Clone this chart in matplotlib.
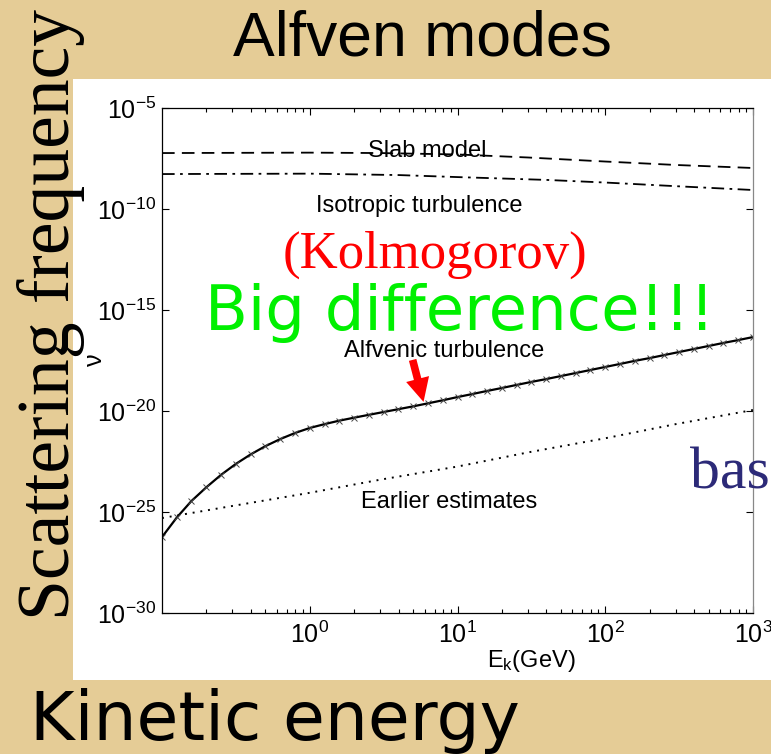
import numpy as np
import matplotlib
matplotlib.use("Agg")
import matplotlib.pyplot as plt
from matplotlib.patches import Rectangle
from matplotlib.ticker import LogLocator, NullLocator, NullFormatter

plt.rcParams['font.family'] = ['Liberation Sans', 'DejaVu Sans']
plt.rcParams['mathtext.fontset'] = 'custom'
plt.rcParams['mathtext.rm'] = 'Liberation Sans'
plt.rcParams['mathtext.it'] = 'Liberation Sans:italic'
plt.rcParams['mathtext.bf'] = 'Liberation Sans:bold'

# ---------------- data ----------------
# Alfvenic turbulence (solid line with x markers)
alf_E = [0.1, 0.126, 0.158, 0.2, 0.251, 0.316, 0.398, 0.501, 0.631, 0.794,
         1.0, 1.26, 1.58, 2.0, 2.51, 3.16, 3.98, 5.01, 6.31, 7.94,
         10, 12.6, 15.8, 20, 25.1, 31.6, 39.8, 50.1, 63.1, 79.4,
         100, 126, 158, 200, 251, 316, 398, 501, 631, 794, 1000]
alf_lognu = [-26.24, -25.27, -24.46, -23.77, -23.16, -22.62, -22.15, -21.74, -21.39, -21.09,
             -20.84, -20.65, -20.48, -20.33, -20.19, -20.05, -19.91, -19.77, -19.62, -19.47,
             -19.31, -19.16, -19.01, -18.86, -18.71, -18.56, -18.42, -18.27, -18.12, -17.97,
             -17.82, -17.67, -17.52, -17.38, -17.23, -17.08, -16.93, -16.78, -16.63, -16.49, -16.34]

# Slab model (dashed)
slab_E = [0.1, 1, 3, 10, 30, 100, 300, 1000]
slab_lognu = [-7.23, -7.21, -7.23, -7.30, -7.45, -7.65, -7.82, -7.97]

# Isotropic turbulence (dash-dot)
iso_E = [0.1, 1, 4, 10, 40, 100, 300, 1000]
iso_lognu = [-8.27, -8.25, -8.32, -8.42, -8.56, -8.69, -8.87, -9.06]

# Earlier estimates (dotted)
early_E = [0.1, 0.3, 1, 3, 10, 30, 100, 300, 1000]
early_lognu = [-25.30, -24.70, -24.05, -23.40, -22.75, -22.05, -21.35, -20.65, -19.95]

xticks = [1, 10, 100, 1000]
yticks = [1e-30, 1e-25, 1e-20, 1e-15, 1e-10, 1e-5]

W, H = 771, 754
fig = plt.figure(figsize=(W / 100, H / 100), dpi=100)
fig.patch.set_facecolor('#e5cc96')

def fx(px):
    return px / W

def fy(py):
    return 1 - py / H

# white slide panel
fig.patches.append(Rectangle((fx(73), fy(680)), fx(771) - fx(73), fy(79) - fy(680),
                             transform=fig.transFigure, facecolor='white',
                             edgecolor='none', zorder=-5))

ax = fig.add_axes([fx(162), fy(613), fx(753) - fx(162), fy(108) - fy(613)])
ax.set_zorder(1)
ax.set_facecolor('white')
ax.set_xscale('log')
ax.set_yscale('log')
ax.set_xlim(0.1, 1000)
ax.set_ylim(1e-30, 1e-5)

ax.plot(slab_E, 10.0 ** np.array(slab_lognu), color='black', lw=1.3, ls=(0, (7, 4)))
ax.plot(iso_E, 10.0 ** np.array(iso_lognu), color='black', lw=1.3, ls=(0, (7, 3, 1.5, 3)))
ax.plot(early_E, 10.0 ** np.array(early_lognu), color='black', lw=1.4, ls=(0, (1, 3)))
ax.plot(alf_E, 10.0 ** np.array(alf_lognu), color='black', lw=1.6,
        marker='x', ms=5, mew=0.7, mec='#444444')

ax.set_xticks(xticks)
ax.set_yticks(yticks)
ax.xaxis.set_minor_locator(LogLocator(base=10, subs=np.arange(2, 10), numticks=20))
ax.xaxis.set_minor_formatter(NullFormatter())
ax.yaxis.set_minor_locator(NullLocator())
ax.tick_params(which='both', direction='in', top=True, right=True)
ax.tick_params(which='major', length=5, width=0.8, labelsize=18, pad=4)
ax.tick_params(which='minor', length=3, width=0.8)
ax.tick_params(axis='x', which='major', labelsize=18, pad=6)
for s in ax.spines.values():
    s.set_linewidth(0.9)
ax.spines['right'].set_color('#888888')

# in-plot labels
ax.text(6.27, 10 ** -7.43, 'Slab model', fontsize=17, ha='center', va='baseline', zorder=3)
ax.text(5.53, 10 ** -10.15, 'Isotropic turbulence', fontsize=17, ha='center', va='baseline')
ax.text(10 ** ((445 - 310) / 148), 10 ** (-5 - (357 - 108) * 0.0495), 'Alfvenic turbulence',
        fontsize=17, ha='center', va='baseline')
ax.text(10 ** ((450 - 310) / 148), 10 ** (-5 - (508 - 108) * 0.0495), 'Earlier estimates',
        fontsize=17, ha='center', va='baseline')

# red arrow
ax.annotate('', xy=(5.89, 10 ** -19.55), xytext=(4.97, 10 ** -17.47),
            arrowprops=dict(width=5.5, headwidth=17, headlength=17, color='red', lw=0))

# axis labels
fig.text(fx(95), fy(360), 'ν', fontsize=18, rotation=90, ha='center', va='center')
fig.text(fx(487), fy(667), r'$\mathregular{E_k}$(GeV)', fontsize=17, ha='left', va='baseline')

# slide overlay texts
fig.text(fx(233), fy(55), 'Alfven modes', fontsize=45, family='Liberation Sans',
         ha='left', va='baseline')
fig.text(fx(69), fy(620), 'Scattering frequency', fontsize=53, family='Liberation Serif',
         rotation=90, rotation_mode='anchor', ha='left', va='baseline')
fig.text(fx(30), fy(740), 'Kinetic energy', fontsize=49, family='DejaVu Sans',
         ha='left', va='baseline')
fig.text(fx(283), fy(268), '(Kolmogorov)', fontsize=38, family='Liberation Serif',
         color='red', ha='left', va='baseline', zorder=5)
fig.text(fx(205), fy(330), 'Big difference!!!', fontsize=45, family='DejaVu Sans',
         color='#00f000', ha='left', va='baseline', zorder=5)
fig.text(fx(690), fy(488), 'bas', fontsize=43, family='Liberation Serif',
         color='#2c2a78', ha='left', va='baseline', zorder=5)

fig.savefig('out.png', dpi=100, facecolor=fig.get_facecolor())
